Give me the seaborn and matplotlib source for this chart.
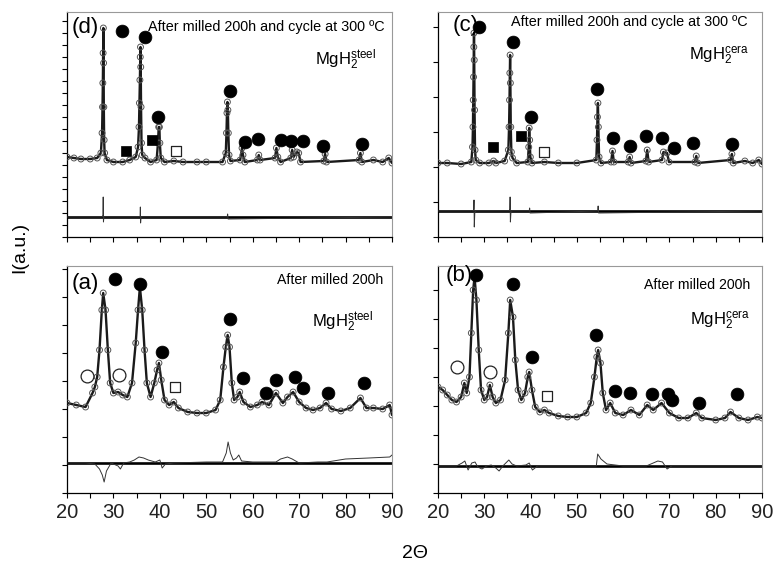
import matplotlib
matplotlib.use("Agg")
import matplotlib.pyplot as plt
from matplotlib.ticker import MultipleLocator
import seaborn as sns
import pandas as pd

# ---- panel (d): steel, after cycling at 300 C ----
d_tt = [20, 21.5, 23, 25, 26.5, 27.3, 27.55, 27.65, 27.72, 27.78, 27.83, 27.88, 27.93, 28.0, 28.1,
        28.6, 30, 32, 33.5, 34.8, 35.3, 35.5, 35.6, 35.7, 35.78, 35.83, 35.88, 35.95, 36.05, 36.2,
        36.8, 38, 39.3, 39.6, 39.75, 39.9, 40.0, 40.2, 41, 43, 45, 48, 50, 53.5, 54.2, 54.35,
        54.45, 54.55, 54.65, 54.75, 54.9, 55.2, 57.3, 57.7, 57.9, 58.3, 61, 61.3, 61.6, 64.8,
        65.1, 65.4, 66, 68.2, 68.5, 68.8, 69.5, 69.9, 70.3, 75.3, 75.6, 75.9, 82.9, 83.2, 83.5,
        86, 88, 89.3, 90]
d_obs = [80, 79, 78, 78, 79, 84, 104, 130, 154, 184, 209, 174, 130, 97, 84,
         77, 75, 75, 77, 80, 90, 110, 134, 157, 180, 190, 170, 130, 94, 82,
         79, 75, 77, 94, 110, 110, 94, 79, 75, 76, 75, 75, 75, 75, 84, 104,
         124, 135, 127, 104, 82, 76, 77, 89, 82, 75, 77, 82, 77, 79,
         89, 80, 75, 79, 87, 80, 85, 84, 75, 76, 83, 75, 77, 84, 75,
         77, 75, 79, 74]
d_diff_tt = [20, 27.6, 27.75, 27.8, 27.85, 27.95, 28.2, 35.6, 35.75, 35.8, 35.85, 35.95, 36.2,
             54.5, 54.6, 54.7, 90]
d_diff = [20, 20, 22, 40, 15, 20, 20, 20, 21, 30, 14, 20, 20, 20, 23, 18, 20]
d_zero = 20
d_full_x = [31.8, 36.9, 39.6, 55.0, 58.4, 61.1, 66.1, 68.3, 70.8, 75.1, 83.5]
d_full_y = [206, 200, 120, 146, 95, 98, 97, 96, 96, 91, 93]
d_sq_x = [32.6, 38.2]
d_sq_y = [86, 97]
d_osq_x = [43.5]
d_osq_y = [86]

# ---- panel (c): ceramic, after cycling at 300 C ----
c_tt = [20, 22, 25, 27.2, 27.45, 27.55, 27.62, 27.68, 27.74, 27.78, 27.83, 27.9, 28.0, 28.15,
        29, 31, 32.0, 32.5, 34.4, 35.2, 35.35, 35.45, 35.52, 35.58, 35.64, 35.72, 35.85, 36.1,
        37, 39.4, 39.6, 39.7, 39.8, 39.95, 40.3, 43, 46, 50, 54.2, 54.35, 54.45, 54.55, 54.65,
        54.8, 55.2, 57.4, 57.7, 58.0, 61.1, 61.4, 61.7, 64.9, 65.2, 65.5, 68.4, 68.7, 69.5,
        69.9, 75.5, 75.8, 76.1, 83.2, 83.5, 83.8, 86.3, 88, 89.3, 90]
c_obs = [74, 74, 73, 75, 90, 110, 137, 160, 190, 204, 177, 127, 87, 77,
         74, 74, 76, 74, 76, 87, 110, 137, 164, 182, 154, 110, 85, 79,
         74, 75, 90, 109, 97, 80, 74, 75, 74, 74, 77, 97, 120, 134, 110,
         80, 74, 75, 86, 75, 75, 80, 74, 76, 87, 75, 77, 85, 84,
         75, 75, 81, 74, 77, 83, 74, 76, 74, 77, 73]
c_diff_tt = [20, 27.6, 27.72, 27.78, 27.84, 27.95, 28.2, 35.4, 35.52, 35.58, 35.64, 35.75, 36,
             39.7, 39.8, 39.9, 54.5, 54.6, 54.7, 90]
c_diff = [26, 26, 28, 37, 10, 24, 26, 26, 28, 40, 15, 24, 26, 26, 29, 24, 26, 31, 24, 26]
c_zero = 26
c_full_x = [28.9, 36.1, 40.1, 54.4, 57.9, 61.4, 64.9, 68.5, 71.0, 75.0, 83.5]
c_full_y = [210, 195, 120, 148, 99, 91, 101, 99, 89, 94, 93]
c_sq_x = [31.9, 37.9]
c_sq_y = [90, 101]
c_osq_x = [42.9]
c_osq_y = [85]

# ---- panel (a): steel, after milling 200 h ----
a_tt = [20, 22, 24, 25.5, 26.0, 26.5, 27, 27.5, 27.8, 28.3, 28.8, 29.3, 30, 31, 32, 33, 34, 34.8,
        35.3, 35.7, 36.2, 36.7, 37.2, 38, 38.8, 39.4, 39.8, 40.3, 41, 42, 43, 44, 46, 48, 50,
        52, 53, 53.7, 54.2, 54.6, 55.0, 55.5, 56, 56.7, 57.2, 58, 59.5, 61, 62, 63.5, 65, 66.5,
        67.5, 68.7, 70, 71.5, 73, 74.5, 75.8, 77, 79, 81, 83.2, 84.5, 86, 88, 89.5, 90]
a_obs = [90, 88, 86, 100, 106, 116, 143, 183, 200, 183, 143, 110, 100, 101, 98, 96, 110, 150,
         183, 206, 183, 143, 110, 96, 110, 123, 130, 113, 93, 88, 91, 85, 81, 80, 80,
         83, 93, 126, 146, 158, 146, 110, 93, 96, 101, 91, 86, 88, 91, 88, 100, 90,
         96, 101, 91, 85, 83, 85, 90, 84, 82, 85, 95, 85, 85, 84, 88, 78]
a_diff_tt = [20, 24, 26, 27, 27.6, 28.0, 28.5, 29.5, 31, 31.5, 32.2, 33.5, 34.5, 35.5, 36.5, 37.5,
             39, 40, 40.5, 41.2, 43, 50, 53.5, 54.3, 54.7, 55.2, 55.8, 56.5, 57, 57.6, 60, 65,
             66, 67.5, 68.5, 70, 74, 76, 80, 85, 89.5, 90]
a_diff = [30, 30, 29, 24, 18, 11, 22, 30, 27, 24, 30, 31, 33, 36, 35, 33,
          31, 33, 25, 29, 30, 31, 31, 40, 51, 40, 33, 35, 38, 32, 31, 31,
          34, 36, 34, 30, 31, 31, 34, 35, 36, 38]
a_zero = 30
a_full_x = [30.3, 35.7, 40.5, 55.0, 58.0, 62.8, 65.1, 69.1, 70.9, 76.3, 83.9]
a_full_y = [214, 209, 141, 174, 115, 100, 113, 116, 105, 100, 110]
a_open_x = [24.3, 31.2]
a_open_y = [117, 118]
a_osq_x = [43.2]
a_osq_y = [106]

# ---- panel (b): ceramic, after milling 200 h ----
b_tt = [20, 21, 22, 23, 24, 25, 25.7, 26.2, 26.8, 27.2, 27.6, 27.9, 28.3, 28.8, 29.3, 30, 30.6,
        31.2, 31.8, 32.5, 33.5, 34.5, 35.2, 35.6, 36.2, 36.7, 37.3, 38, 38.8, 39.4, 39.7, 40.3,
        41, 42, 43, 44, 46, 48, 50, 52, 53, 53.8, 54.3, 54.6, 55.1, 55.6, 56.3, 57.2, 58.3,
        60, 61.7, 63.5, 65.2, 66.5, 68.3, 70, 72, 74, 75.8, 77, 80, 82, 83.2, 85, 87, 89, 90]
b_obs = [106, 103, 98, 93, 91, 96, 110, 100, 116, 160, 203, 216, 193, 143, 103, 93, 96,
         108, 96, 90, 93, 113, 160, 193, 176, 133, 103, 93, 100, 116, 121, 103,
         86, 81, 83, 80, 77, 76, 76, 80, 90, 116, 136, 143, 130, 100, 83, 90, 80,
         78, 83, 78, 88, 83, 90, 80, 75, 75, 80, 75, 73, 75, 81, 75, 73, 76, 75]
b_diff_tt = [20, 24, 25.2, 25.8, 26.5, 27.3, 28, 28.6, 29.5, 30.5, 31.5, 32.5, 33.2, 34, 35.3, 36,
             37, 39, 39.7, 40.4, 41.5, 50, 54.2, 54.5, 55.2, 56.5, 60, 65, 66.5, 67.5, 68.5,
             69.5, 70.5, 80, 90]
b_diff = [27, 27, 30, 32, 23, 30, 31, 26, 24, 27, 28, 25, 22, 27, 33, 29,
          27, 28, 30, 23, 27, 27, 27, 39, 34, 29, 27, 27, 30, 32, 31,
          24, 27, 27, 27]
b_zero = 27
b_full_x = [28.2, 36.1, 40.4, 54.1, 58.2, 61.5, 66.2, 69.6, 70.5, 76.3, 84.7]
b_full_y = [218, 209, 136, 158, 102, 100, 99, 99, 93, 90, 99]
b_open_x = [24.0, 31.2]
b_open_y = [126, 121]
b_osq_x = [43.5]
b_osq_y = [97]

sns.set_theme(style="ticks")
plt.rcParams["font.family"] = ["Liberation Sans", "DejaVu Sans"]
plt.rcParams["mathtext.fontset"] = "custom"
plt.rcParams["mathtext.rm"] = "Liberation Sans"
plt.rcParams["mathtext.it"] = "Liberation Sans:italic"
plt.rcParams["text.color"] = "black"
plt.rcParams["xtick.color"] = "black"
plt.rcParams["ytick.color"] = "black"
plt.rcParams["xtick.labelcolor"] = "#222222"

fig = plt.figure(figsize=(7.73, 5.64), dpi=100)
W, H = 773, 564


def make_ax(x0, x1, y0, y1):
    return fig.add_axes([x0 / W, 1 - y1 / H, (x1 - x0) / W, (y1 - y0) / H])


def draw_panel(ax, tt, obs, dtt, diff, zero, top, ystep, labels):
    ax.axhline(zero, color="black", lw=1.9, zorder=2)
    sns.lineplot(x=dtt, y=diff, ax=ax, color="#333333", lw=0.7, estimator=None, zorder=3)
    # the dense measured points form a dark band along the pattern
    sns.lineplot(x=tt, y=obs, ax=ax, color="#1a1a1a", lw=1.7, estimator=None, zorder=3)
    sns.scatterplot(x=tt, y=obs, ax=ax, s=18, marker="o", facecolor="none",
                    edgecolor="#555555", linewidth=0.7, zorder=4)
    ax.set_xlim(20, 90)
    ax.set_ylim(0, top)
    ax.xaxis.set_major_locator(MultipleLocator(10))
    ax.xaxis.set_minor_locator(MultipleLocator(5))
    ax.yaxis.set_major_locator(MultipleLocator(ystep))
    ax.tick_params(axis="both", which="both", direction="out", length=3.5, width=0.8,
                   color="black")
    ax.tick_params(axis="y", labelleft=False)
    ax.tick_params(axis="x", labelbottom=labels, labelsize=14.5, pad=4)
    for s in ["left", "bottom"]:
        ax.spines[s].set_color("black")
        ax.spines[s].set_linewidth(0.9)
    for s in ["top", "right"]:
        ax.spines[s].set_visible(True)
        ax.spines[s].set_color("#999999")
        ax.spines[s].set_linewidth(0.8)
    ax.set_xlabel("")
    ax.set_ylabel("")


def marks(ax, x, y, marker, size, filled):
    if filled:
        sns.scatterplot(x=x, y=y, ax=ax, marker=marker, s=size, color="black",
                        edgecolor="black", linewidth=0.5, zorder=5)
    else:
        sns.scatterplot(x=x, y=y, ax=ax, marker=marker, s=size, facecolor="white",
                        edgecolor="#222222", linewidth=0.9, zorder=5)


ax_d = make_ax(67, 392, 12, 237)
ax_c = make_ax(438, 762, 12, 237)
ax_a = make_ax(67, 392, 266, 493)
ax_b = make_ax(438, 762, 266, 493)

draw_panel(ax_d, d_tt, d_obs, d_diff_tt, d_diff, d_zero, 225, 12, False)
draw_panel(ax_c, c_tt, c_obs, c_diff_tt, c_diff, c_zero, 225, 35, False)
draw_panel(ax_a, a_tt, a_obs, a_diff_tt, a_diff, a_zero, 227, 28, True)
draw_panel(ax_b, b_tt, b_obs, b_diff_tt, b_diff, b_zero, 227, 29, True)

marks(ax_d, d_full_x, d_full_y, "o", 85, True)
marks(ax_d, d_sq_x, d_sq_y, "s", 55, True)
marks(ax_d, d_osq_x, d_osq_y, "s", 45, False)
marks(ax_c, c_full_x, c_full_y, "o", 85, True)
marks(ax_c, c_sq_x, c_sq_y, "s", 55, True)
marks(ax_c, c_osq_x, c_osq_y, "s", 45, False)
marks(ax_a, a_full_x, a_full_y, "o", 85, True)
marks(ax_a, a_open_x, a_open_y, "o", 85, False)
marks(ax_a, a_osq_x, a_osq_y, "s", 45, False)
marks(ax_b, b_full_x, b_full_y, "o", 85, True)
marks(ax_b, b_open_x, b_open_y, "o", 85, False)
marks(ax_b, b_osq_x, b_osq_y, "s", 45, False)

cyc = "After milled 200h and cycle at 300 \u00baC"
mil = "After milled 200h"
steel = r"MgH$_2^{\mathrm{steel}}$"
cera = r"MgH$_2^{\mathrm{cera}}$"

ax_d.text(0.015, 0.933, "(d)", transform=ax_d.transAxes, fontsize=16, va="center", ha="left")
ax_d.text(0.978, 0.933, cyc, transform=ax_d.transAxes, fontsize=10.4, va="center", ha="right")
ax_d.text(0.763, 0.787, steel, transform=ax_d.transAxes, fontsize=12, va="center", ha="left")

ax_c.text(0.046, 0.942, "(c)", transform=ax_c.transAxes, fontsize=16, va="center", ha="left")
ax_c.text(0.957, 0.956, cyc, transform=ax_c.transAxes, fontsize=10.4, va="center", ha="right")
ax_c.text(0.775, 0.809, cera, transform=ax_c.transAxes, fontsize=12, va="center", ha="left")

ax_a.text(0.015, 0.925, "(a)", transform=ax_a.transAxes, fontsize=16, va="center", ha="left")
ax_a.text(0.972, 0.938, mil, transform=ax_a.transAxes, fontsize=10.2, va="center", ha="right")
ax_a.text(0.754, 0.753, steel, transform=ax_a.transAxes, fontsize=12, va="center", ha="left")

ax_b.text(0.022, 0.96, "(b)", transform=ax_b.transAxes, fontsize=16, va="center", ha="left")
ax_b.text(0.963, 0.916, mil, transform=ax_b.transAxes, fontsize=10.2, va="center", ha="right")
ax_b.text(0.778, 0.762, cera, transform=ax_b.transAxes, fontsize=12, va="center", ha="left")

fig.text(415 / W, 1 - 553 / H, "2\u0398", fontsize=14, ha="center", va="center")
fig.text(20 / W, 1 - 247 / H, "I(a.u.)", fontsize=14, ha="center", va="center", rotation=90)

fig.savefig("out.png", dpi=100)
